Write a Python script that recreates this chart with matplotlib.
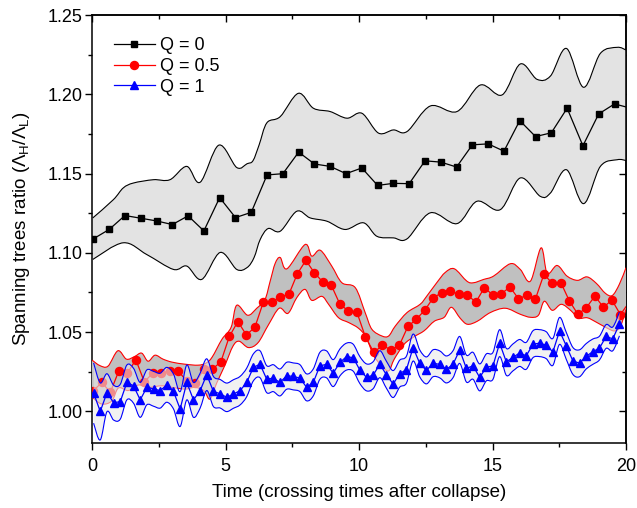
import numpy as np
import matplotlib
matplotlib.use('Agg')
import matplotlib.pyplot as plt
from matplotlib.path import Path
from matplotlib.patches import PathPatch
from matplotlib.ticker import MultipleLocator, FormatStrFormatter

plt.rcParams['font.family'] = ['Liberation Sans', 'DejaVu Sans']
plt.rcParams['mathtext.fontset'] = 'custom'
plt.rcParams['mathtext.rm'] = 'Liberation Sans'
plt.rcParams['mathtext.it'] = 'Liberation Sans:italic'

# ---------------- data ----------------
labels = ['Q = 0', 'Q = 0.5', 'Q = 1']

# Q = 0 (squares): mean, sampled every ~0.59, last value is the line end at t=20
t_q0 = np.append(np.round(0.05 + 0.5915 * np.arange(34), 3), 20.0)
m_q0 = [1.1088, 1.1147, 1.1235, 1.1218, 1.1201, 1.1178, 1.1233, 1.1138, 1.1348, 1.1222,
        1.1255, 1.1491, 1.1499, 1.1635, 1.1560, 1.1545, 1.1499, 1.1535, 1.1425, 1.1438,
        1.1436, 1.1580, 1.1572, 1.1541, 1.1681, 1.1687, 1.1641, 1.1834, 1.1733, 1.1757,
        1.1912, 1.1675, 1.1876, 1.1939, 1.1920]
tu_q0 = [0.03, 0.80, 1.17, 1.55, 2.30, 2.92, 3.55, 4.05, 4.75, 5.42, 5.81, 6.03, 6.26, 6.55,
         7.05, 7.73, 8.29, 8.92, 9.55, 10.11, 10.73, 11.29, 11.80, 12.67, 13.67, 14.54, 15.36,
         16.04, 16.67, 17.17, 17.77, 18.41, 19.04, 19.67, 20.0]
up_q0 = [1.1220, 1.1335, 1.1409, 1.1440, 1.1461, 1.1461, 1.1545, 1.1445, 1.1679, 1.1538,
         1.1562, 1.1581, 1.1681, 1.1820, 1.1859, 1.2006, 1.1912, 1.1891, 1.1849, 1.1880,
         1.1755, 1.1775, 1.1765, 1.1926, 1.1891, 1.2058, 1.1996, 1.2191, 1.2094, 1.2115,
         1.2289, 1.2044, 1.2258, 1.2296, 1.2279]
tl_q0 = [0.03, 1.17, 2.05, 3.05, 3.55, 4.11, 4.80, 5.42, 5.81, 6.07, 6.30, 6.60, 7.05, 7.67,
         8.17, 8.80, 9.48, 10.17, 10.67, 11.29, 11.80, 12.67, 13.67, 14.42, 15.29, 16.04,
         16.79, 17.17, 17.77, 18.41, 19.04, 19.67, 20.0]
lo_q0 = [1.0958, 1.1063, 1.0989, 1.0895, 1.0916, 1.0832, 1.1002, 1.0895, 1.0907, 1.0970,
         1.1084, 1.1153, 1.1136, 1.1262, 1.1220, 1.1199, 1.1147, 1.1189, 1.1104, 1.1094,
         1.1088, 1.1252, 1.1184, 1.1325, 1.1272, 1.1472, 1.1356, 1.1377, 1.1524, 1.1310,
         1.1545, 1.1587, 1.1582]

# Q = 0.5 (circles): mean, sampled every ~0.32, last value is the line end at t=20
t_q05 = np.append(np.round(0.05 + 0.3184 * np.arange(63), 3), 20.0)
m_q05 = [1.0130, 1.0182, 1.0120, 1.0255, 1.0241, 1.0325, 1.0186, 1.0241, 1.0241, 1.0252,
         1.0252, 1.0191, 1.0178, 1.0266, 1.0266, 1.0312, 1.0472, 1.0566, 1.0482, 1.0530,
         1.0689, 1.0689, 1.0723, 1.0738, 1.0868, 1.0952, 1.0874, 1.0815, 1.0794, 1.0676,
         1.0633, 1.0626, 1.0469, 1.0371, 1.0417, 1.0387, 1.0417, 1.0535, 1.0581, 1.0639,
         1.0717, 1.0748, 1.0758, 1.0738, 1.0733, 1.0689, 1.0780, 1.0733, 1.0742, 1.0784,
         1.0711, 1.0731, 1.0708, 1.0864, 1.0807, 1.0811, 1.0696, 1.0612, 1.0654, 1.0727,
         1.0656, 1.0702, 1.0610, 1.0660]
tu_q05 = [0.00, 0.30, 0.60, 0.97, 1.29, 1.59, 1.86, 2.10, 2.36, 2.66, 3.00, 3.49, 3.97, 4.27,
          4.50, 4.87, 5.21, 5.42, 5.83, 6.17, 6.48, 6.67, 6.86, 7.05, 7.30, 7.98, 8.23, 8.55,
          8.98, 9.36, 9.86, 10.23, 10.48, 10.86, 11.11, 11.36, 11.80, 12.29, 12.54, 12.92,
          13.23, 13.57, 14.04, 14.29, 14.67, 15.04, 15.67, 16.04, 16.42, 16.82, 17.05, 17.42,
          17.79, 18.18, 18.54, 18.89, 19.23, 19.49, 19.75, 20.0]
up_q05 = [1.0323, 1.0288, 1.0285, 1.0382, 1.0329, 1.0345, 1.0367, 1.0316, 1.0354, 1.0329,
          1.0310, 1.0297, 1.0291, 1.0304, 1.0342, 1.0455, 1.0530, 1.0669, 1.0606, 1.0650,
          1.0706, 1.0819, 1.0933, 1.0970, 1.0899, 1.1052, 1.0979, 1.1016, 1.0916, 1.0811,
          1.0780, 1.0623, 1.0518, 1.0475, 1.0475, 1.0538, 1.0623, 1.0675, 1.0727, 1.0813,
          1.0876, 1.0899, 1.0821, 1.0811, 1.0832, 1.0853, 1.0931, 1.0895, 1.0821, 1.1031,
          1.0870, 1.0920, 1.0853, 1.0826, 1.0848, 1.0807, 1.0744, 1.0731, 1.0801, 1.0906]
tl_q05 = [0.00, 0.36, 0.74, 0.99, 1.36, 1.74, 2.11, 2.61, 2.99, 3.49, 3.86, 4.20, 4.42, 4.67,
          4.98, 5.28, 5.51, 5.86, 6.22, 6.60, 7.01, 7.34, 7.67, 7.98, 8.23, 8.61, 8.86, 9.23,
          9.61, 9.98, 10.27, 10.54, 10.83, 11.11, 11.32, 11.69, 12.07, 12.44, 12.82, 13.19,
          13.46, 13.79, 14.06, 14.43, 14.92, 15.48, 16.04, 16.42, 16.72, 16.94, 17.24, 17.58,
          17.95, 18.21, 18.55, 18.89, 19.27, 19.57, 19.79, 20.0]
lo_q05 = [1.0090, 1.0046, 1.0065, 1.0147, 1.0131, 1.0166, 1.0151, 1.0161, 1.0151, 1.0140,
          1.0151, 1.0128, 1.0077, 1.0178, 1.0291, 1.0411, 1.0442, 1.0402, 1.0433, 1.0543,
          1.0650, 1.0618, 1.0717, 1.0769, 1.0700, 1.0725, 1.0675, 1.0591, 1.0560, 1.0524,
          1.0467, 1.0354, 1.0291, 1.0255, 1.0329, 1.0423, 1.0471, 1.0508, 1.0568, 1.0593,
          1.0656, 1.0587, 1.0549, 1.0568, 1.0623, 1.0650, 1.0612, 1.0593, 1.0606, 1.0694,
          1.0637, 1.0675, 1.0633, 1.0587, 1.0590, 1.0562, 1.0527, 1.0507, 1.0536, 1.0643]

# Q = 1 (triangles): mean and spread, sampled every ~0.25
t_q1 = np.round(0.06 + 0.2493 * np.arange(80), 3)
m_q1 = [1.0115, 0.9999, 1.0117, 1.0055, 1.0060, 1.0182, 1.0161, 1.0072, 1.0151, 1.0142,
        1.0130, 1.0167, 1.0125, 1.0014, 1.0182, 1.0072, 1.0130, 1.0231, 1.0125, 1.0111,
        1.0088, 1.0109, 1.0130, 1.0182, 1.0277, 1.0297, 1.0203, 1.0209, 1.0182, 1.0224,
        1.0220, 1.0209, 1.0151, 1.0182, 1.0287, 1.0296, 1.0241, 1.0308, 1.0345, 1.0338,
        1.0260, 1.0214, 1.0228, 1.0297, 1.0230, 1.0172, 1.0238, 1.0263, 1.0402, 1.0302,
        1.0258, 1.0303, 1.0296, 1.0264, 1.0297, 1.0387, 1.0270, 1.0287, 1.0214, 1.0277,
        1.0287, 1.0430, 1.0312, 1.0340, 1.0368, 1.0350, 1.0423, 1.0430, 1.0417, 1.0375,
        1.0507, 1.0414, 1.0318, 1.0303, 1.0347, 1.0376, 1.0399, 1.0472, 1.0457, 1.0551]
s_q1 = [0.0190, 0.0180, 0.0120, 0.0110, 0.0110, 0.0110, 0.0110, 0.0110, 0.0110, 0.0110,
        0.0110, 0.0110, 0.0110, 0.0110, 0.0110, 0.0110, 0.0110, 0.0100, 0.0095, 0.0090,
        0.0090, 0.0090, 0.0090, 0.0090, 0.0085, 0.0085, 0.0085, 0.0085, 0.0085, 0.0085,
        0.0085, 0.0085, 0.0085, 0.0085, 0.0085, 0.0085, 0.0085, 0.0085, 0.0085, 0.0085,
        0.0085, 0.0085, 0.0085, 0.0085, 0.0085, 0.0085, 0.0085, 0.0085, 0.0085, 0.0085,
        0.0085, 0.0085, 0.0085, 0.0085, 0.0085, 0.0085, 0.0085, 0.0085, 0.0085, 0.0085,
        0.0085, 0.0085, 0.0085, 0.0085, 0.0085, 0.0085, 0.0085, 0.0085, 0.0085, 0.0085,
        0.0085, 0.0085, 0.0085, 0.0085, 0.0080, 0.0080, 0.0075, 0.0075, 0.0075, 0.0075]

x_ticks = [0, 5, 10, 15, 20]
y_ticks = [1.00, 1.05, 1.10, 1.15, 1.20, 1.25]


# --------------- helpers ---------------
def smooth_path(x, y):
    """Vertices/codes of a smooth Bezier curve through the given points."""
    P = np.column_stack([np.asarray(x, float), np.asarray(y, float)])
    Pm = np.vstack([P[0], P, P[-1]])
    verts = [P[0]]
    codes = [Path.MOVETO]
    for i in range(len(P) - 1):
        p0, p1, p2, p3 = Pm[i], Pm[i + 1], Pm[i + 2], Pm[i + 3]
        verts += [p1 + (p2 - p0) / 6.0, p2 - (p3 - p1) / 6.0, p2]
        codes += [Path.CURVE4] * 3
    return verts, codes


def draw_band(ax, tu, yu, tl, yl, face, edge, z, alpha=1.0):
    vu, cu = smooth_path(tu, yu)
    vl, cl = smooth_path(tl[::-1], yl[::-1])
    verts = vu + vl + [vu[0]]
    codes = cu + [Path.LINETO] + cl[1:] + [Path.CLOSEPOLY]
    ax.add_patch(PathPatch(Path(verts, codes), facecolor=face, edgecolor='none',
                           alpha=alpha, zorder=z))
    for xs, ys in ((tu, yu), (tl, yl)):
        v, c = smooth_path(xs, ys)
        ax.add_patch(PathPatch(Path(v, c), facecolor='none', edgecolor=edge,
                               lw=0.8, zorder=z + 0.5))


# --------------- figure ---------------
fig = plt.figure(figsize=(6.37, 5.08), dpi=100)
ax = fig.add_axes([92 / 637, 1 - 443 / 508, (626 - 92) / 637, (443 - 15) / 508])

# Q = 0
draw_band(ax, tu_q0, up_q0, tl_q0, lo_q0, '#e3e3e3', 'black', 1)
ax.plot(t_q0, m_q0, color='black', lw=0.9, marker='s', ms=5, markevery=slice(0, 34),
        zorder=3, label=labels[0])

# Q = 0.5
draw_band(ax, tu_q05, up_q05, tl_q05, lo_q05, '#c0c0c0', '#ff0000', 4)
ax.plot(t_q05, m_q05, color='#ff0000', lw=0.9, marker='o', ms=5.8, markevery=slice(0, 63),
        zorder=6, label=labels[1])

# Q = 1
m1 = np.array(m_q1)
s1 = np.array(s_q1)
draw_band(ax, t_q1, m1 + s1, t_q1, m1 - s1, '#e8e8e8', '#0000ff', 7, alpha=0.6)
ax.plot(t_q1, m_q1, color='#0000ff', lw=0.9, marker='^', ms=5.8, zorder=9, label=labels[2])

ax.set_xlim(0, 20)
ax.set_ylim(0.98, 1.25)
ax.set_xticks(x_ticks)
ax.set_yticks(y_ticks)
ax.xaxis.set_minor_locator(MultipleLocator(2.5))
ax.yaxis.set_minor_locator(MultipleLocator(0.025))
ax.yaxis.set_major_formatter(FormatStrFormatter('%.2f'))
ax.tick_params(which='both', direction='out', labelsize=13, width=1.0)
ax.tick_params(which='major', length=5)
ax.tick_params(which='minor', length=3)
ax.tick_params(axis='y', which='major', pad=2)
ax.tick_params(axis='x', which='major', pad=6)

secx = ax.secondary_xaxis('top')
secx.set_xticks(x_ticks)
secx.xaxis.set_minor_locator(MultipleLocator(2.5))
secx.tick_params(which='both', direction='in', labeltop=False, width=1.0)
secx.tick_params(which='major', length=5)
secx.tick_params(which='minor', length=3)
secy = ax.secondary_yaxis('right')
secy.set_yticks(y_ticks)
secy.yaxis.set_minor_locator(MultipleLocator(0.025))
secy.tick_params(which='both', direction='in', labelright=False, width=1.0)
secy.tick_params(which='major', length=5)
secy.tick_params(which='minor', length=3)

for sp in ax.spines.values():
    sp.set_linewidth(1.1)
for s in (secx, secy):
    for sp in s.spines.values():
        sp.set_linewidth(1.1)

ax.set_xlabel('Time (crossing times after collapse)', fontsize=13.5, labelpad=6)
ax.set_ylabel(r'Spanning trees ratio ($\Lambda_\mathrm{H}/\Lambda_\mathrm{L}$)',
              fontsize=13.5, labelpad=11)

ax.legend(loc='upper left', bbox_to_anchor=(0.02, 0.973), frameon=False, fontsize=13,
          handlelength=2.3, handletextpad=0.3, labelspacing=0.2, borderaxespad=0.2)

fig.savefig('out.png', dpi=100)
